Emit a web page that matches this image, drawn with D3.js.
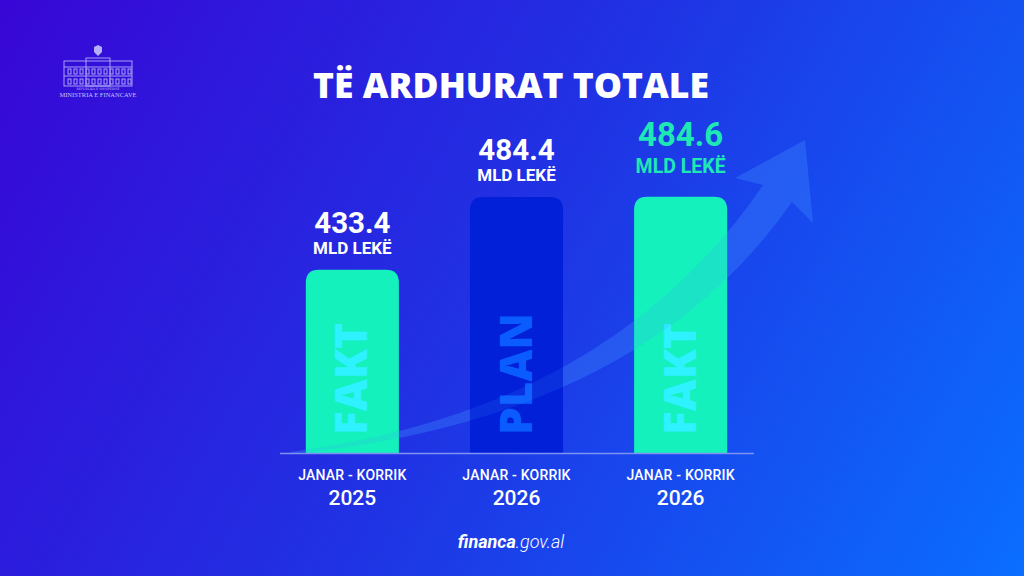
<!DOCTYPE html>
<html>
<head>
<meta charset="utf-8">
<script src="https://cdn.jsdelivr.net/npm/d3@7"></script>
<style>
  html, body { margin: 0; padding: 0; background: #1e36e6; }
  svg { display: block; }
</style>
</head>
<body>
<div id="chart"></div>
<script>
// data
var periods = ["JANAR - KORRIK", "JANAR - KORRIK", "JANAR - KORRIK"];
var years = ["2025", "2026", "2026"];
var values = [433.4, 484.4, 484.6];
var kinds = ["FAKT", "PLAN", "FAKT"];
var highlight = [false, false, true];
var unit = "MLD LEKË";
var title = "TË ARDHURAT TOTALE";

var width = 1024, height = 576;
var baseY = 453;

var svg = d3.select("#chart").append("svg")
    .attr("width", width)
    .attr("height", height);

var defs = svg.append("defs");
var bg = defs.append("linearGradient")
    .attr("id", "bg")
    .attr("gradientUnits", "userSpaceOnUse")
    .attr("x1", 0).attr("y1", 0).attr("x2", width).attr("y2", height);
bg.append("stop").attr("offset", "0%").attr("stop-color", "#3806d6");
bg.append("stop").attr("offset", "50%").attr("stop-color", "#1f34e4");
bg.append("stop").attr("offset", "100%").attr("stop-color", "#0a6eff");

svg.append("rect").attr("width", width).attr("height", height).attr("fill", "url(#bg)");

//////////// logo ////////////
var logo = svg.append("g").attr("transform", "translate(98,0)")
    .attr("fill", "none").attr("stroke", "#c4c0ff").attr("stroke-width", 0.9).attr("opacity", 0.9);
logo.append("path").attr("d", "M-4,47 L0,45 L4,47 L4,52 L0,56 L-4,52 Z").attr("fill", "#c4c0ff").attr("stroke", "none");
logo.append("rect").attr("x", -34).attr("y", 61).attr("width", 68).attr("height", 25);
logo.append("rect").attr("x", -12).attr("y", 58).attr("width", 24).attr("height", 28);
logo.append("line").attr("x1", -34).attr("x2", 34).attr("y1", 67).attr("y2", 67);
logo.append("line").attr("x1", -34).attr("x2", 34).attr("y1", 76).attr("y2", 76);
d3.range(-30, 32, 6).forEach(function(x) {
  logo.append("rect").attr("x", x).attr("y", 69).attr("width", 3).attr("height", 5);
  logo.append("rect").attr("x", x).attr("y", 79).attr("width", 3).attr("height", 5);
});
logo.append("text").attr("x", 0).attr("y", 90).attr("text-anchor", "middle")
    .attr("stroke", "none").attr("fill", "#c4c0ff")
    .style("font-family", "DejaVu Serif").style("font-size", "3px")
    .text("REPUBLIKA E SHQIPËRISË");
logo.append("text").attr("x", 0).attr("y", 97).attr("text-anchor", "middle")
    .attr("stroke", "none").attr("fill", "#d8d4ff")
    .style("font-family", "Liberation Serif").style("font-size", "6.5px")
    .text("MINISTRIA E FINANCAVE");

//////////// title ////////////
svg.append("text")
    .attr("x", 511).attr("y", 98)
    .attr("text-anchor", "middle")
    .attr("fill", "#ffffff")
    .style("font-family", "'Open Sans', sans-serif")
    .style("font-weight", 800)
    .style("font-size", "35.5px")
    .text(title);

//////////// scales ////////////
var x = d3.scaleBand()
    .domain(d3.range(values.length))
    .range([273, 760])
    .paddingInner(0.433)
    .paddingOuter(0.2);

var y = d3.scaleLinear()
    .domain([305, 490])
    .range([baseY, 189]);

//////////// arrow (behind bars) ////////////
var arrowPath = "M290,452 Q610,410 763,185 L735,178 L805,140 L813,223 L792,202 Q640,420 290,454 Z";
svg.append("path")
    .attr("d", arrowPath)
    .attr("fill", "#3d8bff")
    .attr("opacity", 0.24);

//////////// bars ////////////
function topRounded(x0, y0, w, h, r) {
  return "M" + x0 + "," + (y0 + h) +
    "V" + (y0 + r) +
    "Q" + x0 + "," + y0 + " " + (x0 + r) + "," + y0 +
    "H" + (x0 + w - r) +
    "Q" + (x0 + w) + "," + y0 + " " + (x0 + w) + "," + (y0 + r) +
    "V" + (y0 + h) + "Z";
}

var bars = svg.append("g").selectAll("g")
    .data(values)
    .join("g");

bars.append("path")
    .attr("d", function(d, i) { return topRounded(x(i), y(d), x.bandwidth(), baseY - y(d), 13); })
    .attr("fill", function(d, i) { return kinds[i] === "PLAN" ? "#0220d8" : "#14f1bd"; });

// arrow overlay on top of bars, lighter
svg.append("path")
    .attr("d", arrowPath)
    .attr("fill", "#3d8bff")
    .attr("opacity", 0.14);

bars.append("text")
    .attr("transform", function(d, i) { return "translate(" + (x(i) + x.bandwidth() / 2 + 15) + "," + 435 + ") rotate(-90)"; })
    .attr("fill", function(d, i) { return kinds[i] === "PLAN" ? "#0a5cff" : "#2ef2ff"; })
    .style("font-family", "'Open Sans', sans-serif")
    .style("font-weight", 800)
    .style("font-size", "44px")
    .text(function(d, i) { return kinds[i]; });

// value labels
bars.append("text")
    .attr("x", function(d, i) { return x(i) + x.bandwidth() / 2; })
    .attr("y", function(d, i) { return y(d) - (highlight[i] ? 51 : 37); })
    .attr("text-anchor", "middle")
    .attr("fill", function(d, i) { return highlight[i] ? "#1ee8b4" : "#ffffff"; })
    .style("font-family", "Roboto, sans-serif")
    .style("font-weight", 700)
    .style("font-size", function(d, i) { return highlight[i] ? "33px" : "29.5px"; })
    .text(function(d) { return d3.format(".1f")(d); });

bars.append("text")
    .attr("x", function(d, i) { return x(i) + x.bandwidth() / 2; })
    .attr("y", function(d, i) { return y(d) - (highlight[i] ? 24 : 16); })
    .attr("text-anchor", "middle")
    .attr("fill", function(d, i) { return highlight[i] ? "#1ee8b4" : "#ffffff"; })
    .style("font-family", "Roboto, sans-serif")
    .style("font-weight", 700)
    .style("font-size", function(d, i) { return highlight[i] ? "19.5px" : "17px"; })
    .text(unit);

//////////// baseline + category labels ////////////
svg.append("line")
    .attr("x1", 280).attr("x2", 754)
    .attr("y1", baseY + 0.5).attr("y2", baseY + 0.5)
    .attr("stroke", "#7f92f2")
    .attr("stroke-width", 1.5);

var cats = svg.append("g").selectAll("g")
    .data(values)
    .join("g")
    .attr("transform", function(d, i) { return "translate(" + (x(i) + x.bandwidth() / 2) + ",0)"; });

cats.append("text")
    .attr("y", 480)
    .attr("text-anchor", "middle")
    .attr("fill", "#ffffff")
    .style("font-family", "Roboto, sans-serif")
    .style("font-weight", 500)
    .style("font-size", "14px")
    .style("letter-spacing", "0.2px")
    .text(function(d, i) { return periods[i]; });

cats.append("text")
    .attr("y", 505)
    .attr("text-anchor", "middle")
    .attr("fill", "#ffffff")
    .style("font-family", "Roboto, sans-serif")
    .style("font-weight", 500)
    .style("font-size", "21px")
    .text(function(d, i) { return years[i]; });

//////////// footer ////////////
var foot = svg.append("text")
    .attr("x", 511).attr("y", 548)
    .attr("text-anchor", "middle")
    .attr("fill", "#ffffff")
    .style("font-family", "Roboto, sans-serif")
    .style("font-style", "italic")
    .style("font-size", "18px");
foot.append("tspan").style("font-weight", 700).text("financa");
foot.append("tspan").style("font-weight", 300).text(".gov.al");
</script>
</body>
</html>
